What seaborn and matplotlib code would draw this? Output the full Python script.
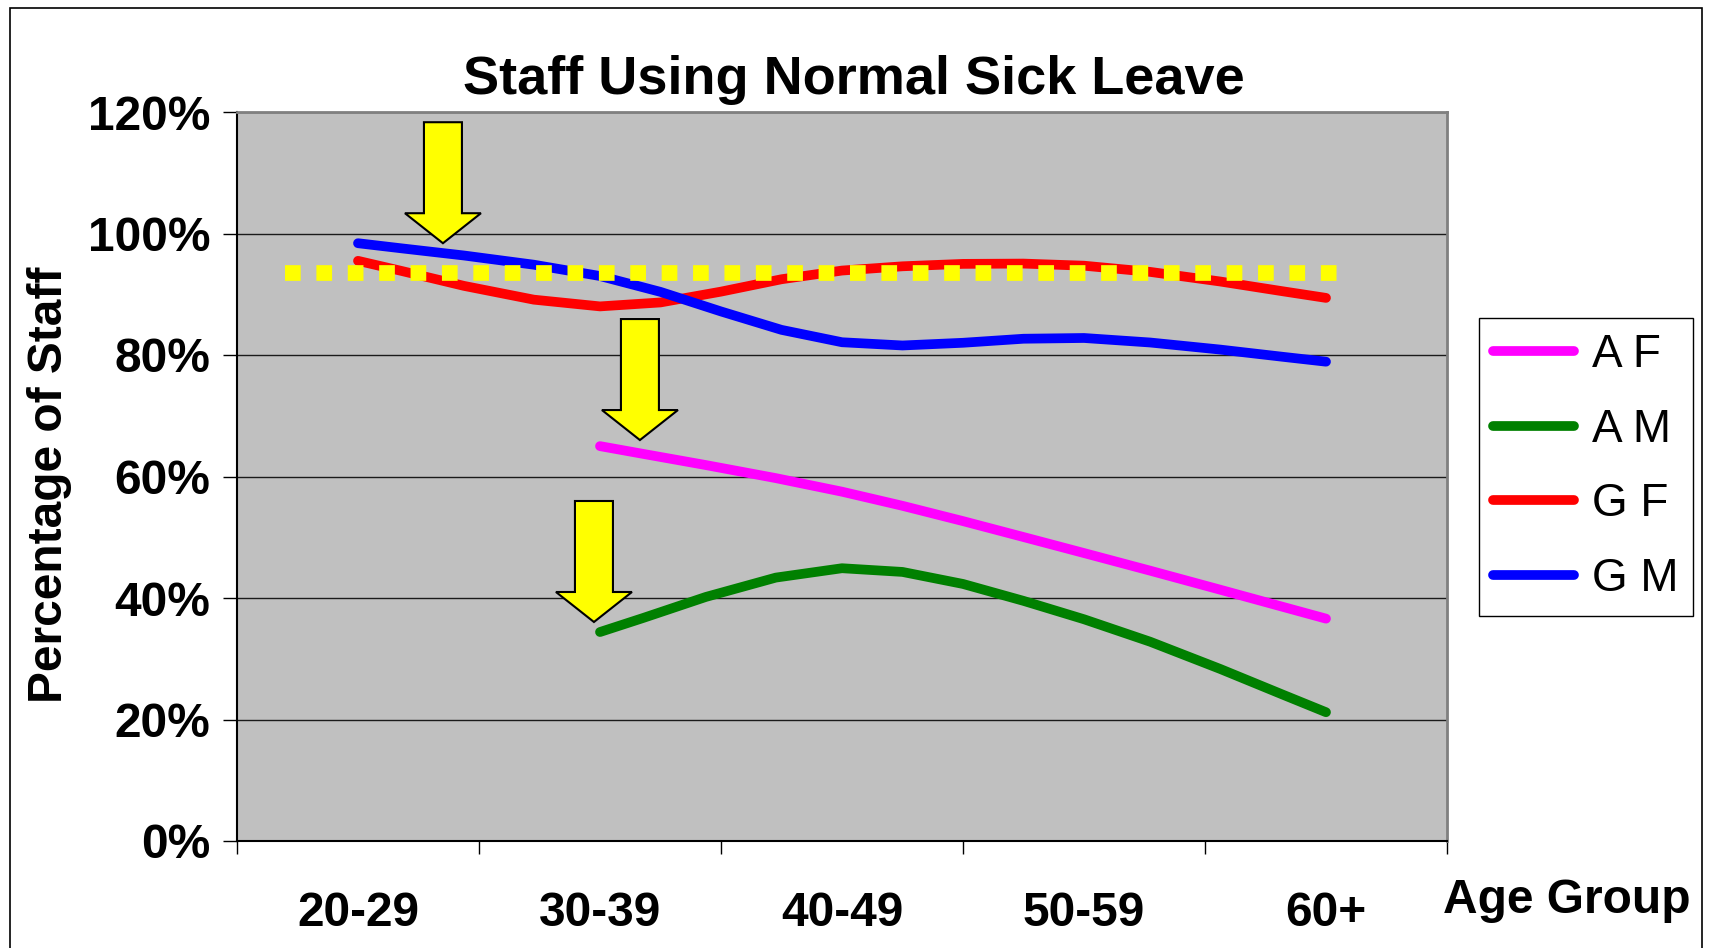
import numpy as np
import pandas as pd
import matplotlib
matplotlib.use("Agg")
import matplotlib.pyplot as plt
import matplotlib.transforms as mtransforms
from matplotlib.patches import Polygon, Rectangle
from matplotlib.lines import Line2D
import seaborn as sns

# ---------------- data ----------------
age_groups = ["20-29", "30-39", "40-49", "50-59", "60+"]
af_values = [np.nan, 0.650, 0.575, 0.474, 0.366]   # A F
am_values = [np.nan, 0.344, 0.449, 0.365, 0.212]   # A M
gf_values = [0.955, 0.880, 0.939, 0.947, 0.894]    # G F
gm_values = [0.984, 0.930, 0.821, 0.828, 0.789]    # G M
series_names = ["A F", "A M", "G F", "G M"]
series_colors = ["#FF00FF", "#008000", "#FF0000", "#0000FF"]
target_rate = 0.935
y_ticks = [0.0, 0.2, 0.4, 0.6, 0.8, 1.0, 1.2]

# ---------------- style ----------------
sns.set_theme(style="white")
plt.rcParams["font.family"] = ["Liberation Sans", "DejaVu Sans"]
plt.rcParams["text.color"] = "black"
plt.rcParams["axes.labelcolor"] = "black"
plt.rcParams["xtick.color"] = "black"
plt.rcParams["ytick.color"] = "black"

W, H = 1710, 948
fig = plt.figure(figsize=(W / 100, H / 100), dpi=100)
ax = fig.add_axes([237 / W, 1 - 841 / H, 1210 / W, 729 / H])
ax.set_facecolor("#C0C0C0")


def smooth(vals, n=4):
    """Excel-like smoothed line (Catmull-Rom) through the given category values."""
    idx = np.array([i for i, v in enumerate(vals) if not np.isnan(v)], dtype=float)
    v = np.array([vals[int(i)] for i in idx], dtype=float)
    px = np.concatenate([[idx[0]], idx, [idx[-1]]])
    pv = np.concatenate([[v[0]], v, [v[-1]]])
    xs, ys = [], []
    for k in range(1, len(px) - 2):
        for t in np.linspace(0, 1, n, endpoint=False):
            t2, t3 = t * t, t * t * t
            def cr(p):
                return 0.5 * ((2 * p[k]) + (-p[k - 1] + p[k + 1]) * t
                              + (2 * p[k - 1] - 5 * p[k] + 4 * p[k + 1] - p[k + 2]) * t2
                              + (-p[k - 1] + 3 * p[k] - 3 * p[k + 1] + p[k + 2]) * t3)
            xs.append(cr(px))
            ys.append(cr(pv))
    xs.append(px[-2])
    ys.append(pv[-2])
    return np.array(xs), np.array(ys)


all_vals = [af_values, am_values, gf_values, gm_values]
handles = []
for name, vals, col in zip(series_names, all_vals, series_colors):
    sx, sy = smooth(vals)
    df = pd.DataFrame({"x": sx, "y": sy})
    sns.lineplot(data=df, x="x", y="y", ax=ax, color=col, lw=7, sort=False,
                 estimator=None, solid_capstyle="round", solid_joinstyle="round",
                 zorder=3)
    handles.append(Line2D([], [], color=col, lw=7, solid_capstyle="round"))

# yellow dotted reference line
ax.plot([-0.30, 4.07], [target_rate, target_rate], color="#FFFF00", lw=11.3,
        linestyle=(0, (1, 1)), dash_capstyle="butt", zorder=5)

# block arrows (pixel shape, anchored at tip in data coords)
arrow_tips = [(0.351, 0.984), (1.165, 0.660), (0.975, 0.3605)]
shape = np.array([[0, 0], [38, 30], [19, 30], [19, 121], [-19, 121], [-19, 30], [-38, 30]])
for tx, ty in arrow_tips:
    tr = mtransforms.Affine2D() + mtransforms.ScaledTranslation(tx, ty, ax.transData)
    ax.add_patch(Polygon(shape, closed=True, facecolor="#FFFF00", edgecolor="black",
                         lw=1.5, transform=tr, zorder=6, clip_on=False))

# axes
ax.set_xlim(-0.5, 4.5)
ax.set_ylim(0, 1.2)
ax.set_yticks(y_ticks)
ax.set_yticklabels([f"{int(round(t * 100))}%" for t in y_ticks])
ax.set_xticks(range(len(age_groups)))
ax.set_xticklabels(age_groups)
ax.set_xticks(np.arange(-0.5, 4.6, 1.0), minor=True)
ax.tick_params(axis="y", which="major", length=10, width=1, color="black",
               direction="out", pad=9, labelsize=34.5, left=True, labelcolor="black")
ax.tick_params(axis="x", which="major", length=0, pad=36, labelsize=34.5,
               labelcolor="black")
ax.tick_params(axis="x", which="minor", length=9.4, width=1, color="black",
               direction="out", bottom=True)
for lab in ax.get_xticklabels() + ax.get_yticklabels():
    lab.set_fontweight("bold")
ax.set_xlabel("")
ax.set_ylabel("")
ax.yaxis.grid(True, color="#1a1a1a", lw=1)
ax.xaxis.grid(False)
ax.set_axisbelow(True)
for s in ["top", "right"]:
    ax.spines[s].set_color("#808080")
    ax.spines[s].set_linewidth(2)
for s in ["left", "bottom"]:
    ax.spines[s].set_color("black")
    ax.spines[s].set_linewidth(1.5)

# texts
fig.text(854 / W, 1 - 94 / H, "Staff Using Normal Sick Leave", ha="center",
         va="baseline", fontsize=39, fontweight="bold", color="black")
fig.text(50 / W, 1 - 485 / H, "Percentage of Staff", rotation=90, ha="center",
         va="center", fontsize=34.5, fontweight="bold", color="black")
fig.text(1443 / W, 1 - 913 / H, "Age Group", ha="left", va="baseline",
         fontsize=34.5, fontweight="bold", color="black")

# legend
leg = ax.legend(handles, series_names, loc="center",
                bbox_to_anchor=(1586 / W, 1 - 467 / H), bbox_transform=fig.transFigure,
                fontsize=33, handlelength=1.75, handletextpad=0.4, labelspacing=0.67,
                borderpad=0.32, frameon=True, fancybox=False, framealpha=1)
leg.get_frame().set_edgecolor("black")
leg.get_frame().set_linewidth(1)
leg.get_frame().set_facecolor("white")
for t in leg.get_texts():
    t.set_color("black")

# outer chart border
fig.add_artist(Rectangle((10 / W, -0.1), (1702 - 10) / W, 1 - 8 / H + 0.1,
                         transform=fig.transFigure, fill=False, edgecolor="black",
                         lw=1.2, clip_on=False))

fig.savefig("out.png", dpi=100)
